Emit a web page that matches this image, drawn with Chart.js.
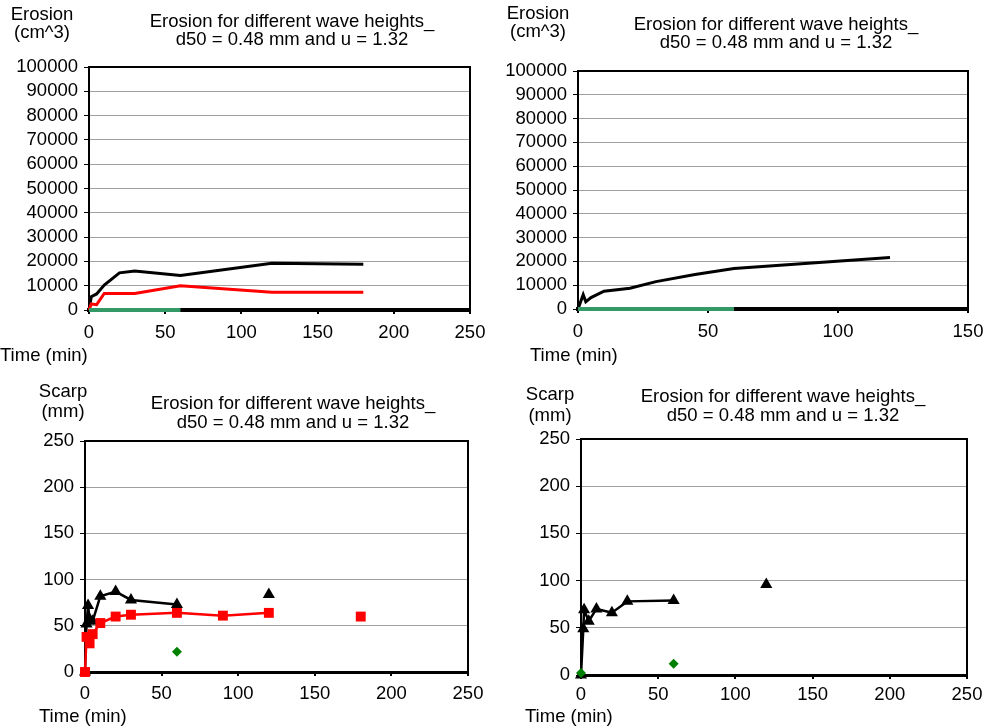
<!DOCTYPE html>
<html><head><meta charset="utf-8">
<script src="https://cdn.jsdelivr.net/npm/chart.js@4/dist/chart.umd.min.js"></script>
<style>
html,body{margin:0;padding:0;background:#fff;}
body{width:1001px;height:727px;position:relative;overflow:hidden;}
canvas{position:absolute;}
</style></head>
<body>
<canvas id="c1" width="500" height="370" style="left:0;top:0"></canvas>
<canvas id="c2" width="501" height="370" style="left:500px;top:0"></canvas>
<canvas id="c3" width="500" height="357" style="left:0;top:370px"></canvas>
<canvas id="c4" width="501" height="357" style="left:500px;top:370px"></canvas>
<script>
// ---- Data ----
const titleLines = ["Erosion for different wave heights_", "d50 = 0.48 mm and u = 1.32"];
const erosionUnit = ["Erosion", "(cm^3)"];
const scarpUnit = ["Scarp", "(mm)"];
const timeLabel = "Time (min)";

// Chart 1: erosion volume
const c1BlackT = [0, 1.5, 5, 10, 20, 30, 60, 120, 180];
const c1BlackV = [0, 5500, 6600, 10300, 15300, 16000, 14200, 19200, 18800];
const c1RedT = [0, 1.5, 5, 10, 30, 60, 120, 180];
const c1RedV = [0, 2500, 2200, 6800, 6800, 10000, 7300, 7300];
const c1GreenT = [0, 60];
const c1GreenV = [0, 0];

// Chart 2: erosion volume
const c2BlackT = [0, 2, 3, 5, 10, 20, 30, 45, 60, 120];
const c2BlackV = [0, 6000, 3000, 4800, 7500, 8700, 11500, 14500, 17000, 21600];
const c2GreenT = [0, 60];
const c2GreenV = [0, 0];

// Chart 3: scarp
const c3BlackT = [0, 1, 2, 3, 5, 10, 20, 30, 60, null, 120];
const c3BlackV = [0, 52, 72, 57, 55, 82, 87, 78, 73, null, 84];
const c3RedT = [0, 1, 3, 5, 10, 20, 30, 60, 90, 120, null, 180];
const c3RedV = [0, 38, 31, 41, 53, 60, 62, 64, 61, 64, null, 60];
const c3GreenT = [60];
const c3GreenV = [22];

// Chart 4: scarp
const c4BlackT = [0, 1.5, 2, 5, 10, 20, 30, 60, null, 120];
const c4BlackV = [0, 49, 69, 57, 70, 66, 78, 79, null, 96];
const c4GreenT = [0, 60];
const c4GreenV = [2, 12];

const erosionTicksMax = 100000, erosionStep = 10000;
const scarpTicksMax = 250, scarpStep = 50;

// ---- helpers ----
function pts(t, v) {
  return t.map((x, i) => (x === null ? {x: NaN, y: null} : {x: x, y: v[i]}));
}
const FONT = "'Liberation Sans', Arial, sans-serif";
const FS = 18.5;

const framePlugin = {
  id: 'frame',
  beforeDatasetsDraw(chart) {
    const a = chart.chartArea, ctx = chart.ctx;
    ctx.save();
    ctx.strokeStyle = '#000';
    ctx.lineWidth = 2;
    ctx.strokeRect(a.left, a.top, a.right - a.left, a.bottom - a.top);
    ctx.restore();
  },
  afterDraw(chart, args, o) {
    const ctx = chart.ctx;
    ctx.save();
    ctx.fillStyle = '#000';
    ctx.font = FS + 'px ' + FONT;
    ctx.textBaseline = 'middle';
    ctx.textAlign = 'center';
    ctx.fillText(o.title[0], o.titleX, o.titleY[0]);
    ctx.fillText(o.title[1], o.titleX, o.titleY[1]);
    ctx.fillText(o.unit[0], o.unitX, o.unitY[0]);
    ctx.fillText(o.unit[1], o.unitX, o.unitY[1]);
    ctx.textAlign = 'left';
    ctx.fillText(o.time, o.timeX, o.timeY);
    ctx.restore();
  }
};

function makeChart(id, cfg) {
  const cv = document.getElementById(id);
  const W = cv.width, H = cv.height, A = cfg.area;
  return new Chart(cv, {
    type: 'scatter',
    data: { datasets: cfg.datasets.map(d => Object.assign({ clip: false }, d)) },
    options: {
      responsive: false,
      animation: false,
      events: [],
      layout: { padding: { left: 0, top: A.t, right: W - A.r, bottom: 0 } },
      plugins: {
        legend: { display: false },
        tooltip: { enabled: false },
        title: { display: false },
        frame: cfg.text
      },
      scales: {
        x: {
          type: 'linear', min: 0, max: cfg.xMax,
          afterFit(s) { s.height = H - A.b; },
          ticks: { stepSize: 50, autoSkip: false, color: '#000', font: { family: FONT, size: FS }, padding: cfg.xPad, maxRotation: 0,
                   callback: v => String(v) },
          grid: { drawOnChartArea: false, drawTicks: true, tickLength: 4, color: '#000', lineWidth: 2 },
          border: { color: '#000', width: cfg.xBorder }
        },
        y: {
          type: 'linear', min: 0, max: cfg.yMax,
          afterFit(s) { s.width = A.l; },
          ticks: { stepSize: cfg.yStep, autoSkip: false, color: '#000', font: { family: FONT, size: FS }, padding: 6,
                   callback: v => String(v) },
          grid: { color: '#a0a0a0', lineWidth: 1, tickLength: 5, tickColor: '#000' },
          border: { color: '#000', width: 2 }
        }
      }
    },
    plugins: [framePlugin]
  });
}

const lineDs = (data, color, width) => ({ data, showLine: true, borderColor: color, borderWidth: width,
  pointRadius: 0, backgroundColor: color, spanGaps: false });

makeChart('c1', {
  area: { l: 89, t: 67, r: 470, b: 310 }, xMax: 250, yMax: erosionTicksMax, yStep: erosionStep, xBorder: 4, xPad: 8,
  datasets: [
    lineDs(pts(c1GreenT, c1GreenV), '#339966', 4),
    lineDs(pts(c1RedT, c1RedV), '#ff0000', 3),
    lineDs(pts(c1BlackT, c1BlackV), '#000000', 3)
  ],
  text: { title: titleLines, titleX: 292, titleY: [22, 40], unit: erosionUnit, unitX: 42, unitY: [15, 33],
          time: timeLabel, timeX: 0, timeY: 356 }
});

makeChart('c2', {
  area: { l: 78, t: 71, r: 468, b: 309 }, xMax: 150, yMax: erosionTicksMax, yStep: erosionStep, xBorder: 4, xPad: 8,
  datasets: [
    lineDs(pts(c2GreenT, c2GreenV), '#339966', 4),
    lineDs(pts(c2BlackT, c2BlackV), '#000000', 3)
  ],
  text: { title: titleLines, titleX: 276, titleY: [25, 43], unit: erosionUnit, unitX: 38, unitY: [14, 32],
          time: timeLabel, timeX: 30, timeY: 356 }
});

makeChart('c3', {
  area: { l: 85, t: 71, r: 468, b: 302 }, xMax: 250, yMax: scarpTicksMax, yStep: scarpStep, xBorder: 3, xPad: 7,
  datasets: [
    { data: pts(c3GreenT, c3GreenV), showLine: false, pointStyle: 'rectRot', pointRadius: 5,
      backgroundColor: '#008000', borderColor: '#008000', borderWidth: 0 },
    { data: pts(c3RedT, c3RedV), showLine: true, spanGaps: false, borderColor: '#ff0000', borderWidth: 2.5,
      pointStyle: 'rect', pointRadius: 7, backgroundColor: '#ff0000', pointBorderColor: '#ff0000', pointBorderWidth: 0 },
    { data: pts(c3BlackT, c3BlackV), showLine: true, spanGaps: false, borderColor: '#000000', borderWidth: 2.5,
      pointStyle: 'triangle', pointRadius: 7, backgroundColor: '#000000', pointBorderColor: '#000000', pointBorderWidth: 0 }
  ],
  text: { title: titleLines, titleX: 293, titleY: [34, 53], unit: scarpUnit, unitX: 63, unitY: [22, 42],
          time: timeLabel, timeX: 39, timeY: 347 }
});

makeChart('c4', {
  area: { l: 81, t: 69, r: 467, b: 305 }, xMax: 250, yMax: scarpTicksMax, yStep: scarpStep, xBorder: 3, xPad: 5,
  datasets: [
    { data: pts(c4GreenT, c4GreenV), showLine: false, pointStyle: 'rectRot', pointRadius: 5,
      backgroundColor: '#008000', borderColor: '#008000', borderWidth: 0 },
    { data: pts(c4BlackT, c4BlackV), showLine: true, spanGaps: false, borderColor: '#000000', borderWidth: 2.5,
      pointStyle: 'triangle', pointRadius: 7, backgroundColor: '#000000', pointBorderColor: '#000000', pointBorderWidth: 0 }
  ],
  text: { title: titleLines, titleX: 283, titleY: [27, 46], unit: scarpUnit, unitX: 50, unitY: [25, 46],
          time: timeLabel, timeX: 25, timeY: 347 }
});
</script>
</body></html>
